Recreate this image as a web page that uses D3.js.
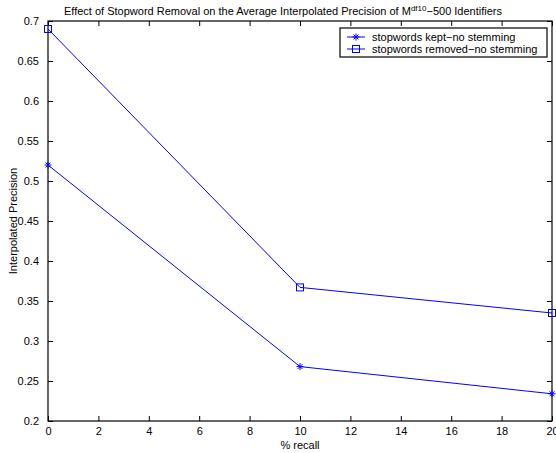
<!DOCTYPE html>
<html><head><meta charset="utf-8">
<script src="https://cdn.jsdelivr.net/npm/d3@7"></script>
<style>
body{margin:0;background:#fff;}
text{font-family:"Liberation Sans",Arial,Helvetica,sans-serif;fill:#000;}
</style></head>
<body><svg id="c" width="556" height="453"></svg>
<script>
const recall = [0, 10, 20];
const keptNoStem = [0.52, 0.268, 0.234];
const removedNoStem = [0.69, 0.367, 0.335];
const seriesNames = ["stopwords kept\u2212no stemming", "stopwords removed\u2212no stemming"];
const xTicks = [0,2,4,6,8,10,12,14,16,18,20];
const yTicks = [0.2,0.25,0.3,0.35,0.4,0.45,0.5,0.55,0.6,0.65,0.7];

const svg = d3.select("#c");
const L=48, R=552, T=21, B=421;
const x = d3.scaleLinear().domain([0,20]).range([L,R]);
const y = d3.scaleLinear().domain([0.2,0.7]).range([B,T]);
const fs = 11;

// axes with inward ticks
const gB = svg.append("g").attr("transform",`translate(0,${B})`)
  .call(d3.axisBottom(x).tickValues(xTicks).tickSizeInner(-5).tickSizeOuter(0).tickPadding(9).tickFormat(d3.format("d")));
const gT = svg.append("g").attr("transform",`translate(0,${T})`)
  .call(d3.axisTop(x).tickValues(xTicks).tickSizeInner(-5).tickSizeOuter(0).tickFormat(""));
const gL = svg.append("g").attr("transform",`translate(${L},0)`)
  .call(d3.axisLeft(y).tickValues(yTicks).tickSizeInner(-5).tickSizeOuter(0).tickPadding(9).tickFormat(d=>String(+d.toFixed(2))));
const gR = svg.append("g").attr("transform",`translate(${R},0)`)
  .call(d3.axisRight(y).tickValues(yTicks).tickSizeInner(-5).tickSizeOuter(0).tickFormat(""));
[gB,gT,gL,gR].forEach(g=>{
  g.select(".domain").remove();
  g.selectAll("line").attr("stroke","#000").attr("stroke-width",1);
  g.selectAll("text").attr("font-size",fs).attr("font-family","Liberation Sans, Arial, sans-serif").attr("fill","#000");
});
gB.selectAll("text").attr("dy","0.71em").attr("y",6);
svg.append("rect").attr("x",L).attr("y",T).attr("width",R-L).attr("height",B-T)
  .attr("fill","none").attr("stroke","#000").attr("stroke-width",1.2);

const blue="#0000ff";
const line = d3.line().x((d,i)=>x(recall[i])).y(d=>y(d));
function star(g,cx,cy,s){
  const p=`M${cx-s},${cy}L${cx+s},${cy}M${cx},${cy-s}L${cx},${cy+s}M${cx-s*0.7},${cy-s*0.7}L${cx+s*0.7},${cy+s*0.7}M${cx-s*0.7},${cy+s*0.7}L${cx+s*0.7},${cy-s*0.7}`;
  g.append("path").attr("d",p).attr("stroke",blue).attr("stroke-width",1).attr("fill","none");
}
function sq(g,cx,cy,s){
  g.append("rect").attr("x",cx-s).attr("y",cy-s).attr("width",2*s).attr("height",2*s)
   .attr("fill","none").attr("stroke",blue).attr("stroke-width",1);
}
const pg = svg.append("g");
pg.append("path").attr("d",line(keptNoStem)).attr("fill","none").attr("stroke",blue).attr("stroke-width",1);
pg.append("path").attr("d",line(removedNoStem)).attr("fill","none").attr("stroke",blue).attr("stroke-width",1);
keptNoStem.forEach((v,i)=>star(pg,x(recall[i]),y(v),3.5));
removedNoStem.forEach((v,i)=>sq(pg,x(recall[i]),y(v),3.5));

// legend
const lg = svg.append("g");
lg.append("rect").attr("x",340).attr("y",28).attr("width",207).attr("height",29)
  .attr("fill","#fff").attr("stroke","#000").attr("stroke-width",1.2);
const rows=[37,49];
rows.forEach((ry,i)=>{
  lg.append("line").attr("x1",347).attr("x2",365).attr("y1",ry).attr("y2",ry).attr("stroke",blue);
  if(i===0) star(lg,356,ry,3.5); else sq(lg,356,ry,3.5);
  lg.append("text").attr("x",372).attr("y",ry+4).attr("font-size",fs).text(seriesNames[i]);
});

// title
const t = svg.append("text").attr("x",283).attr("y",15).attr("text-anchor","middle").attr("font-size",fs);
t.append("tspan").text("Effect of Stopword Removal on the Average Interpolated Precision of M");
t.append("tspan").attr("dy",-4).attr("font-size",8).text("df10");
t.append("tspan").attr("dy",4).text("\u2212500 Identifiers");

svg.append("text").attr("x",300).attr("y",449).attr("text-anchor","middle").attr("font-size",fs).text("% recall");
svg.append("text").attr("transform","translate(17,221) rotate(-90)").attr("text-anchor","middle").attr("font-size",fs).text("Interpolated Precision");
</script></body></html>
